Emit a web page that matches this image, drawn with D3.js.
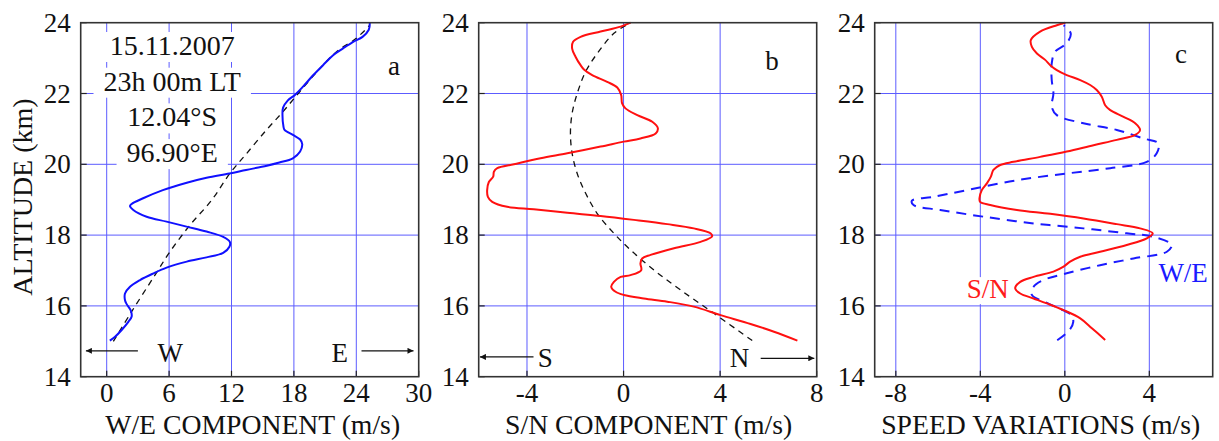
<!DOCTYPE html>
<html>
<head>
<meta charset="utf-8">
<script src="https://cdn.jsdelivr.net/npm/d3@7"></script>
<style>
  body { margin: 0; background: #fff; }
  svg { display: block; }
  text { font-family: "Liberation Serif", "Times New Roman", serif; fill: #111; }
</style>
</head>
<body>
<svg width="1219" height="441"></svg>
<script>
// altitude ticks (km)
const altTicks = [14, 16, 18, 20, 22, 24];
const altGrid = [16, 18, 20, 22];

// panel a: W/E component, [value m/s, altitude km]
const weTicks = [0, 6, 12, 18, 24, 30];
const weObs = [
  [0.3, 15.02], [0.8, 15.13], [1.44, 15.32], [2.08, 15.55], [2.4, 15.7], [2.3, 15.88],
  [1.92, 16.05], [1.76, 16.16], [1.76, 16.35], [2.24, 16.54], [3.2, 16.73], [4.5, 16.92],
  [5.76, 17.08], [7.7, 17.25], [9.6, 17.37], [11.2, 17.5], [11.8, 17.67], [11.84, 17.81],
  [11.2, 17.95], [9.6, 18.1], [7.68, 18.24], [5.76, 18.38], [3.84, 18.52], [2.56, 18.71],
  [2.24, 18.82], [2.4, 18.88], [3.5, 19.04], [5.4, 19.27], [7.7, 19.48], [9.6, 19.62],
  [11.8, 19.74], [13.4, 19.84], [15.4, 19.96], [16.6, 20.05], [17.9, 20.17], [18.6, 20.36],
  [18.8, 20.57], [18.6, 20.7], [17.9, 20.83], [17.1, 20.97], [17.0, 21.06], [16.9, 21.4],
  [16.96, 21.6], [17.4, 21.8], [18.1, 21.96], [18.9, 22.2], [19.8, 22.5], [20.8, 22.8],
  [21.8, 23.09], [22.7, 23.27], [23.7, 23.46], [24.6, 23.6], [25.2, 23.8], [25.3, 24.0]
];
const weFit = [
  [0.64, 15.0], [2.4, 15.84], [4.64, 16.87], [6.08, 17.53], [8.0, 18.28], [10.1, 18.99],
  [11.84, 19.74], [13.44, 20.3], [15.36, 20.97], [16.96, 21.49], [18.56, 22.05],
  [20.48, 22.7], [22.1, 23.18], [24.0, 23.56], [25.3, 23.93]
];

// panel b: S/N component
const snTicks = [-4, 0, 4, 8];
const snObs = [
  [7.2, 15.02], [6.23, 15.27], [5.26, 15.49], [4.02, 15.74], [2.91, 15.98], [1.81, 16.12],
  [0.84, 16.21], [0.01, 16.31], [-0.33, 16.4], [-0.51, 16.54], [-0.4, 16.68], [-0.12, 16.82],
  [0.29, 16.87], [0.73, 17.01], [0.7, 17.2], [0.77, 17.34], [1.12, 17.44], [2.09, 17.63],
  [3.19, 17.81], [3.67, 17.97], [3.6, 18.05], [2.91, 18.19], [1.81, 18.31], [0.43, 18.43],
  [-0.95, 18.54], [-2.33, 18.63], [-3.72, 18.73], [-4.82, 18.8], [-5.44, 18.94],
  [-5.62, 19.08], [-5.65, 19.27], [-5.58, 19.5], [-5.4, 19.65], [-5.37, 19.79],
  [-5.23, 19.89], [-4.54, 20.0], [-3.44, 20.17], [-2.33, 20.31], [-0.95, 20.5], [0, 20.64],
  [0.7, 20.73], [1.33, 20.87], [1.42, 21.02], [1.19, 21.2], [0.57, 21.39], [0.08, 21.58],
  [-0.06, 21.72], [-0.1, 21.96], [-0.26, 22.17], [-0.68, 22.33], [-1.3, 22.52],
  [-1.64, 22.68], [-1.78, 22.8], [-1.99, 23.04], [-2.13, 23.27], [-2.09, 23.46],
  [-1.78, 23.6], [-0.95, 23.75], [-0.12, 23.89], [0.29, 24.0]
];
const snFit = [
  [5.33, 15.02], [3.74, 15.79], [2.36, 16.45], [1.26, 17.01], [0.29, 17.58], [-0.4, 18.05],
  [-1.09, 18.61], [-1.57, 19.18], [-1.92, 19.74], [-2.13, 20.31], [-2.2, 20.87],
  [-2.13, 21.44], [-1.92, 22.0], [-1.57, 22.62], [-1.09, 23.13], [-0.4, 23.7], [0.29, 24.0]
];

// panel c: speed variations
const varTicks = [-8, -4, 0, 4];
const snVar = [
  [1.91, 15.04], [1.28, 15.37], [0.73, 15.65], [-0.06, 15.88], [-0.85, 16.07], [-1.48, 16.21],
  [-2.11, 16.35], [-2.35, 16.5], [-2.11, 16.68], [-1.48, 16.82], [-0.54, 16.97],
  [-0.06, 17.11], [0.25, 17.25], [0.73, 17.39], [1.67, 17.53], [2.93, 17.72], [3.88, 17.91],
  [4.16, 18.05], [3.56, 18.19], [2.46, 18.31], [0.88, 18.47], [-0.69, 18.6], [-2.27, 18.71],
  [-3.53, 18.85], [-4.01, 18.94], [-4.04, 19.04], [-3.93, 19.27], [-3.69, 19.46],
  [-3.5, 19.65], [-3.38, 19.84], [-3.06, 19.98], [-2.43, 20.07], [-1.17, 20.21],
  [0.09, 20.36], [1.36, 20.54], [2.46, 20.69], [3.33, 20.83], [3.56, 20.97], [3.33, 21.16],
  [2.78, 21.34], [2.15, 21.53], [1.91, 21.67], [1.75, 21.91], [1.51, 22.1], [1.2, 22.24],
  [0.73, 22.38], [0.09, 22.52], [-0.38, 22.66], [-0.69, 22.8], [-0.93, 22.95],
  [-1.32, 23.13], [-1.56, 23.32], [-1.61, 23.51], [-1.17, 23.75], [-0.38, 23.93], [0.02, 24.0]
];
const weVar = [
  [-0.36, 15.03], [0.2, 15.3], [0.4, 15.55], [0.3, 15.75], [-0.1, 15.88], [-0.9, 16.1],
  [-1.56, 16.31], [-1.48, 16.54], [-1.01, 16.73], [0.09, 16.92], [1.67, 17.15],
  [3.25, 17.34], [4.83, 17.53], [5.06, 17.72], [4.2, 17.95], [2.93, 18.05], [0.88, 18.19],
  [-1.48, 18.33], [-3.85, 18.52], [-5.9, 18.71], [-7.16, 18.85], [-7.24, 18.97],
  [-6.21, 19.08], [-4.64, 19.27], [-2.27, 19.55], [0.09, 19.74], [2.15, 19.89],
  [3.88, 20.07], [4.35, 20.31], [4.43, 20.59], [3.72, 20.73], [2.46, 20.97], [0.88, 21.16],
  [-0.38, 21.39], [-0.62, 21.63], [-0.54, 22.0], [-0.62, 22.38], [-0.62, 22.85],
  [-0.46, 23.18], [0.09, 23.42], [0.28, 23.7], [-0.06, 23.93]
];

const infoLines = ["15.11.2007", "23h 00m LT", "12.04\u00b0S", "96.90\u00b0E"];

const svg = d3.select("svg");
const yTop = 22.7, yBottom = 376.7;
const y = d3.scaleLinear().domain([14, 24]).range([yBottom, yTop]);
const gridColor = "#5c5cff";

function panel(opts) {
  const x = d3.scaleLinear().domain(opts.domain).range(opts.range);
  const g = svg.append("g");
  const [x0, x1] = opts.range;

  // grid
  g.selectAll(".vg").data(opts.grid).enter().append("line")
    .attr("x1", d => x(d)).attr("x2", d => x(d))
    .attr("y1", yTop).attr("y2", yBottom)
    .attr("stroke", gridColor).attr("stroke-width", 1);
  g.selectAll(".hg").data(altGrid).enter().append("line")
    .attr("x1", x0).attr("x2", x1)
    .attr("y1", d => y(d)).attr("y2", d => y(d))
    .attr("stroke", gridColor).attr("stroke-width", 1);

  // inward ticks
  g.selectAll(".yt").data(altTicks).enter().append("line")
    .attr("x1", x0).attr("x2", x0 + 6)
    .attr("y1", d => y(d)).attr("y2", d => y(d))
    .attr("stroke", "#222").attr("stroke-width", 1.2);
  g.selectAll(".xt").data(opts.ticks).enter().append("line")
    .attr("x1", d => x(d)).attr("x2", d => x(d))
    .attr("y1", yBottom).attr("y2", yBottom - 6)
    .attr("stroke", "#222").attr("stroke-width", 1.2);

  // tick labels
  g.selectAll(".yl").data(altTicks).enter().append("text")
    .attr("x", x0 - 10).attr("y", d => y(d) + 9)
    .attr("text-anchor", "end").attr("font-size", 27)
    .text(d => d);
  g.selectAll(".xl").data(opts.ticks).enter().append("text")
    .attr("x", d => x(d)).attr("y", 402)
    .attr("text-anchor", "middle").attr("font-size", 27)
    .text(d => d);

  g.append("text")
    .attr("x", (x0 + x1) / 2 + opts.titleShift).attr("y", 434)
    .attr("text-anchor", "middle").attr("font-size", 27.7)
    .text(opts.title);

  g.append("text")
    .attr("x", opts.letter[0]).attr("y", opts.letter[1])
    .attr("text-anchor", "middle").attr("font-size", 27)
    .text(opts.letterText);

  return { g, x, x0, x1 };
}

const lineGen = x => d3.line()
  .x(d => x(d[0])).y(d => y(d[1]))
  .curve(d3.curveCatmullRom.alpha(0.5));

function frame(p) {
  p.g.append("rect")
    .attr("x", p.x0).attr("y", yTop)
    .attr("width", p.x1 - p.x0).attr("height", yBottom - yTop)
    .attr("fill", "none").attr("stroke", "#333").attr("stroke-width", 1.6);
}

svg.append("defs").append("marker")
  .attr("id", "ah").attr("viewBox", "0 0 10 10")
  .attr("refX", 10).attr("refY", 5)
  .attr("markerWidth", 10).attr("markerHeight", 6)
  .attr("markerUnits", "userSpaceOnUse")
  .attr("orient", "auto")
  .append("path").attr("d", "M0,0L10,5L0,10Z").attr("fill", "#111");

function arrow(p, v0, v1, alt) {
  p.g.append("line")
    .attr("x1", p.x(v0)).attr("x2", p.x(v1))
    .attr("y1", y(alt)).attr("y2", y(alt))
    .attr("stroke", "#111").attr("stroke-width", 1.2)
    .attr("marker-end", "url(#ah)");
}

function label(p, v, alt, txt, color, size) {
  return p.g.append("text")
    .attr("x", p.x(v)).attr("y", y(alt))
    .attr("text-anchor", "middle").attr("font-size", size || 27)
    .style("fill", color || "#111")
    .text(txt);
}

// ---- panel a
const pa = panel({
  domain: [-2.5, 30], range: [80.7, 418.7], ticks: weTicks, grid: [0, 6, 12, 18, 24],
  title: "W/E COMPONENT (m/s)", titleShift: 3, letter: [394, 75], letterText: "a"
});
// info block with white background behind each line
infoLines.forEach((t, i) => {
  const tx = label(pa, 6.3, 14, t).attr("y", 55 + i * 35.7).attr("font-size", 28);
  const bb = tx.node().getBBox();
  pa.g.insert("rect", () => tx.node())
    .attr("x", bb.x - 10).attr("y", bb.y + 2)
    .attr("width", bb.width + 20).attr("height", bb.height - 1)
    .attr("fill", "#fff");
});
pa.g.append("path").datum(weFit).attr("d", lineGen(pa.x))
  .attr("fill", "none").attr("stroke", "#111").attr("stroke-width", 1.3)
  .attr("stroke-dasharray", "6,5");
pa.g.append("path").datum(weObs).attr("d", lineGen(pa.x))
  .attr("fill", "none").attr("stroke", "#1010ff").attr("stroke-width", 2);
arrow(pa, 3.0, -2.0, 14.73);
arrow(pa, 24.5, 29.5, 14.73);
label(pa, 6.1, 14.42, "W");
label(pa, 22.4, 14.42, "E");
frame(pa);

// ---- panel b
const pb = panel({
  domain: [-6, 8], range: [478.7, 816.7], ticks: snTicks, grid: [-4, 0, 4],
  title: "S/N COMPONENT (m/s)", titleShift: 1, letter: [772, 70], letterText: "b"
});
pb.g.append("path").datum(snFit).attr("d", lineGen(pb.x))
  .attr("fill", "none").attr("stroke", "#111").attr("stroke-width", 1.3)
  .attr("stroke-dasharray", "6,5");
pb.g.append("path").datum(snObs).attr("d", lineGen(pb.x))
  .attr("fill", "none").attr("stroke", "#ff1010").attr("stroke-width", 2);
arrow(pb, -3.73, -5.95, 14.56);
arrow(pb, 5.68, 7.9, 14.52);
label(pb, -3.24, 14.26, "S");
label(pb, 4.8, 14.26, "N");
frame(pb);

// ---- panel c
const pc = panel({
  domain: [-9, 7], range: [874.7, 1212.7], ticks: varTicks, grid: [-8, -4, 0, 4],
  title: "SPEED VARIATIONS (m/s)", titleShift: -3, letter: [1181, 63], letterText: "c"
});
pc.g.append("path").datum(weVar).attr("d", lineGen(pc.x))
  .attr("fill", "none").attr("stroke", "#1a1aff").attr("stroke-width", 2)
  .attr("stroke-dasharray", "10,7");
pc.g.append("path").datum(snVar).attr("d", lineGen(pc.x))
  .attr("fill", "none").attr("stroke", "#ff1010").attr("stroke-width", 2);
const snLab = label(pc, -3.65, 16.22, "S/N", "#ff1a1a");
const sb = snLab.node().getBBox();
pc.g.insert("rect", () => snLab.node())
  .attr("x", sb.x - 3).attr("y", sb.y + 3)
  .attr("width", sb.width + 6).attr("height", sb.height - 3)
  .attr("fill", "#fff");
label(pc, 5.6, 16.67, "W/E", "#1a1aff");
frame(pc);

// y-axis title
svg.append("text")
  .attr("transform", "translate(32,197) rotate(-90)")
  .attr("text-anchor", "middle").attr("font-size", 28)
  .text("ALTITUDE (km)");
</script>
</body>
</html>
